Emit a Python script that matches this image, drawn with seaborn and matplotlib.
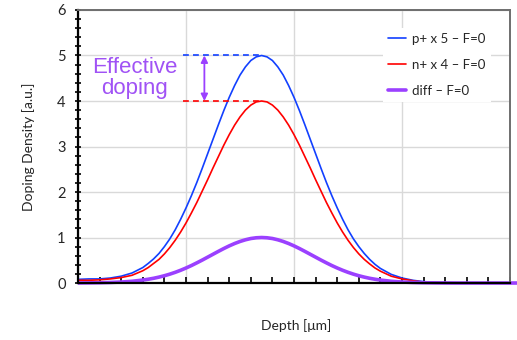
import matplotlib
matplotlib.use("Agg")
import matplotlib.pyplot as plt
import numpy as np
import pandas as pd
import seaborn as sns
from matplotlib.ticker import MultipleLocator
from matplotlib.lines import Line2D

# Depth grid (arbitrary depth units along the x axis)
depth = [0.0, 0.1, 0.2, 0.3, 0.4, 0.5, 0.6,
         0.65, 0.7, 0.75, 0.8, 0.85, 0.9, 0.95, 1.0, 1.05, 1.1, 1.15, 1.2, 1.25,
         1.3, 1.35, 1.4, 1.45, 1.5, 1.55, 1.6, 1.65, 1.7, 1.75, 1.8, 1.85, 1.9,
         1.95, 2.0, 2.05, 2.1, 2.15, 2.2, 2.25, 2.3, 2.35, 2.4, 2.45, 2.5, 2.55,
         2.6, 2.65, 2.7, 2.75,
         2.8, 2.9, 3.0, 3.1, 3.2, 3.3, 3.4, 3.5, 3.6, 3.7, 3.8, 3.9, 4.0, 4.1]

# p+ implant profile (scaled x5)
p_plus = [0.08, 0.09, 0.09, 0.11, 0.15, 0.22, 0.34,
          0.43, 0.53, 0.65, 0.80, 0.97, 1.17, 1.40, 1.65, 1.92, 2.21, 2.52, 2.84, 3.16,
          3.48, 3.79, 4.08, 4.34, 4.57, 4.75, 4.89, 4.97, 5.00, 4.97, 4.89, 4.75, 4.57,
          4.34, 4.08, 3.79, 3.48, 3.16, 2.84, 2.52, 2.21, 1.92, 1.65, 1.40, 1.17, 0.97,
          0.80, 0.65, 0.52, 0.41,
          0.32, 0.19, 0.11, 0.06, 0.03, 0.015, 0.007, 0.004, 0.002, 0, 0, 0, 0, 0]

# n+ implant profile (scaled x4)
n_plus = [0.06, 0.06, 0.07, 0.09, 0.12, 0.17, 0.27,
          0.34, 0.43, 0.52, 0.64, 0.78, 0.94, 1.12, 1.32, 1.54, 1.77, 2.02, 2.27, 2.53,
          2.78, 3.03, 3.26, 3.47, 3.65, 3.80, 3.91, 3.98, 4.00, 3.98, 3.91, 3.80, 3.65,
          3.47, 3.26, 3.03, 2.78, 2.53, 2.27, 2.02, 1.77, 1.54, 1.32, 1.12, 0.94, 0.78,
          0.64, 0.52, 0.42, 0.33,
          0.26, 0.15, 0.09, 0.05, 0.02, 0.01, 0.006, 0.003, 0.001, 0, 0, 0, 0, 0]

# Net (effective) doping
diff = [0.001, 0.003, 0.006, 0.012, 0.022, 0.038, 0.065,
        0.083, 0.104, 0.130, 0.160, 0.195, 0.235, 0.280, 0.330, 0.384, 0.443, 0.504, 0.568, 0.632,
        0.696, 0.758, 0.816, 0.868, 0.913, 0.950, 0.978, 0.994, 1.000, 0.994, 0.978, 0.950, 0.913,
        0.868, 0.816, 0.758, 0.696, 0.632, 0.568, 0.504, 0.443, 0.384, 0.330, 0.280, 0.235, 0.195,
        0.160, 0.130, 0.104, 0.083,
        0.065, 0.038, 0.022, 0.012, 0.006, 0.003, 0.001, 0, 0, 0, 0, 0, 0, 0]

series_labels = ["p+ x 5 \u2013 F=0", "n+ x 4 \u2013 F=0", "diff \u2013 F=0"]
y_ticks = [0, 1, 2, 3, 4, 5, 6]
annotation_text = "Effective\ndoping"
x_label = "Depth [\u03bcm]"
y_label = "Doping Density [a.u.]"

BLUE = "#1240ff"
RED = "#ff0000"
PURPLE = "#9b40ff"
TEXT_PURPLE = "#a052f5"

sns.set_theme(style="white")
plt.rcParams["font.family"] = ["Lato", "DejaVu Sans"]

df = pd.DataFrame({"depth": depth, "p": p_plus, "n": n_plus, "diff": diff})

fig = plt.figure(figsize=(5.17, 3.40), dpi=100)
ax = fig.add_axes([0.1509, 0.1676, 0.8356, 0.8030])

sns.lineplot(data=df, x="depth", y="p", ax=ax, color=BLUE, lw=1.2, sort=False)
sns.lineplot(data=df, x="depth", y="n", ax=ax, color=RED, lw=1.2, sort=False)
sns.lineplot(data=df, x="depth", y="diff", ax=ax, color=PURPLE, lw=2.6, sort=False)
for ln in ax.lines:
    ln.set_clip_on(False)
    ln.set_solid_capstyle("butt")

ax.set_xlim(0, 4)
ax.set_ylim(0, 6)
ax.set_yticks(y_ticks)
ax.set_xticks([0, 1, 2, 3, 4])
ax.xaxis.set_minor_locator(MultipleLocator(0.2))
ax.yaxis.set_minor_locator(MultipleLocator(0.2))
ax.grid(True, which="major", color="#d9d9d9", lw=1.0)
ax.set_axisbelow(True)

ax.tick_params(axis="y", which="both", direction="inout", length=5, width=1.2,
               color="black", labelsize=10.5, pad=6.5, left=True)
ax.tick_params(axis="x", which="both", direction="in", length=4, width=1.2,
               color="black", labelbottom=False, bottom=True)

for side in ["left", "bottom"]:
    ax.spines[side].set_color("black")
    ax.spines[side].set_linewidth(1.6)
for side in ["top", "right"]:
    ax.spines[side].set_color("#6e6e6e")
    ax.spines[side].set_linewidth(1.4)

ax.set_xlabel(x_label, fontsize=10)
ax.set_ylabel(y_label, fontsize=10)
ax.xaxis.set_label_coords(0.505, -0.133)
ax.yaxis.set_label_coords(-0.10, 0.5)

# Reference levels at the two peaks and the effective-doping arrow
i_peak = int(np.argmax(p_plus))
x_peak = depth[i_peak]
p_max = max(p_plus)
n_max = max(n_plus)
ax.plot([0.97, x_peak], [p_max, p_max], color=BLUE, lw=1.2, ls=(0, (3.5, 2.5)))
ax.plot([0.97, x_peak], [n_max, n_max], color=RED, lw=1.2, ls=(0, (3.5, 2.5)))
ax.annotate("", xy=(1.17, n_max), xytext=(1.17, p_max),
            arrowprops=dict(arrowstyle="<|-|>", color=PURPLE, lw=1.3,
                            mutation_scale=10, shrinkA=0, shrinkB=0))
ax.text(0.525, 4.5, annotation_text, ha="center", va="center", fontsize=16,
        color=TEXT_PURPLE, family=["Liberation Sans", "DejaVu Sans"], linespacing=1.0)

handles = [Line2D([], [], color=BLUE, lw=1.2),
           Line2D([], [], color=RED, lw=1.2),
           Line2D([], [], color=PURPLE, lw=2.6)]
leg = ax.legend(handles, series_labels, loc="upper left", bbox_to_anchor=(0.706, 0.935),
                borderaxespad=0, frameon=True, facecolor="white", edgecolor="none",
                framealpha=1, fontsize=9.5, handlelength=1.35, handletextpad=0.45,
                labelspacing=1.05, borderpad=0.4, fancybox=False)

fig.savefig("out.png", dpi=100)
